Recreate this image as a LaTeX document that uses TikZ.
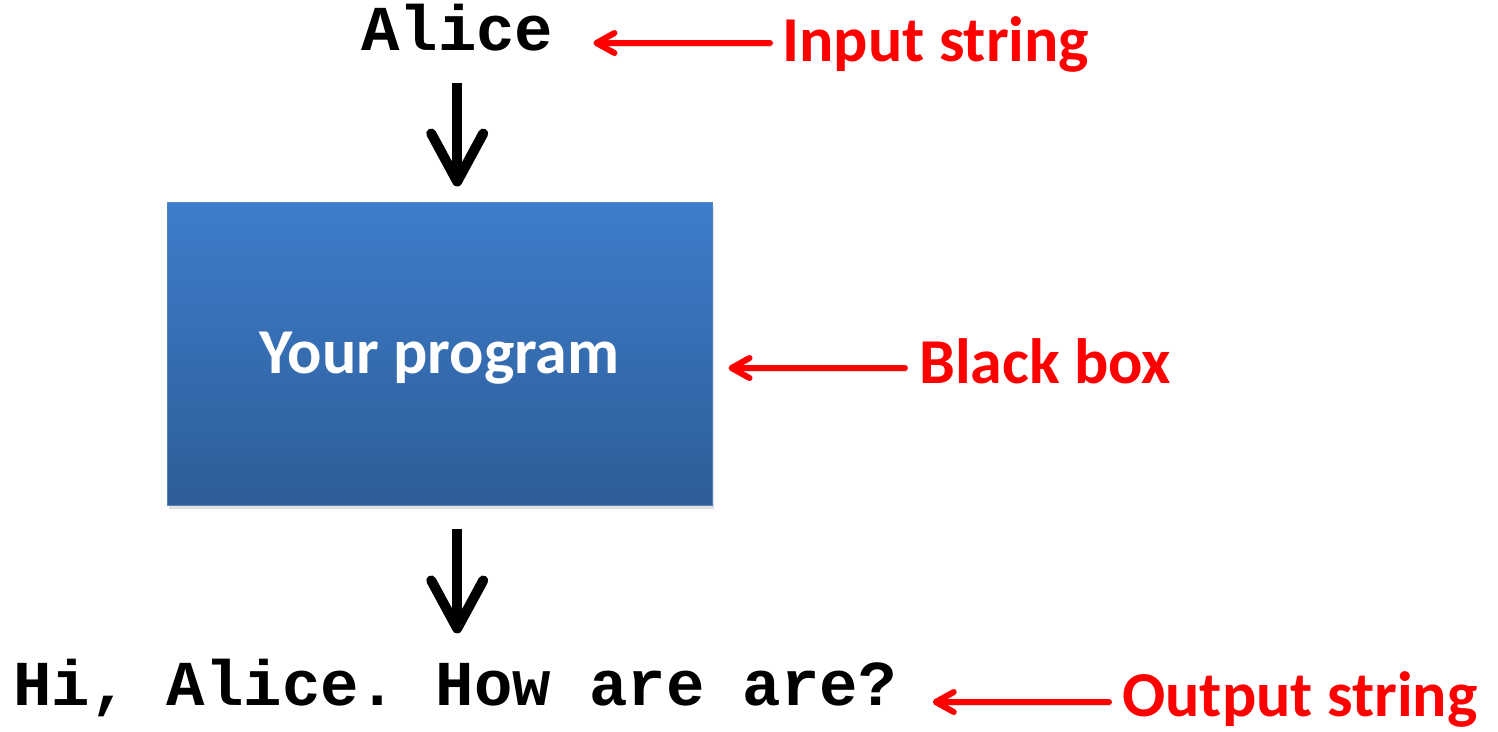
\documentclass[tikz,border=0pt]{standalone}
\usepackage{fontspec}
\setmainfont{Carlito}
\setmonofont{Liberation Mono}
\usetikzlibrary{arrows.meta,shadows}
\definecolor{boxtop}{RGB}{61,125,203}
\definecolor{boxbot}{RGB}{46,93,152}
\definecolor{boxedge}{RGB}{84,132,192}
\definecolor{lblred}{RGB}{255,0,0}
\begin{document}
\begin{tikzpicture}[x=1pt,y=-1pt,
  code/.style={font=\fontsize{64}{70}\selectfont\ttfamily\bfseries, inner sep=0pt, anchor=base west},
  lbl/.style={font=\fontsize{64}{70}\selectfont\bfseries, text=lblred, inner sep=0pt, anchor=base west, text height=40pt, text depth=12pt},
  progbox/.style={minimum width=545pt, minimum height=303pt, inner sep=0pt,
    top color=boxtop, bottom color=boxbot, draw=boxedge, line width=1pt,
    drop shadow={shadow xshift=2pt, shadow yshift=-4pt, opacity=0.25},
    font=\fontsize{64}{70}\selectfont\bfseries, text=white, text height=40pt, text depth=0pt},
  flow/.style={line width=10pt, -{Straight Barb[length=48pt,width=52pt,round]},
    preaction={draw=black, opacity=0.15, transform canvas={shift={(2pt,-3pt)}}}},
  note/.style={draw=lblred, line width=6pt, line cap=round, -{Straight Barb[length=18pt,width=20pt,round]},
    preaction={draw=black, opacity=0.15, transform canvas={shift={(1.5pt,-3pt)}}}}]
\useasboundingbox (0,0) rectangle (1498,731);
\node[code] (alice) at (361,50) {Alice};
\node[lbl] (inlabel) at (782,61) {Input string};
\node[progbox] (box) at (439.5,353.5) {Your program};
\node[lbl] (bblabel) at (919,383) {Black box};
\node[code] (out) at (13,705) {Hi, Alice. How are are?};
\node[lbl] (outlabel) at (1122,716) {Output string};
\draw[flow, shorten <=32pt, shorten >=15pt] (alice.south) -- (alice.south |- box.north);
\draw[flow, shorten <=23pt, shorten >=25pt] (alice.south |- box.south) -- (alice.south |- out.north);
\draw[note, shorten <=12pt, shorten >=40pt] ([yshift=4pt]inlabel.west) -- ([yshift=4pt]inlabel.west -| alice.east);
\draw[note, shorten <=14pt, shorten >=16pt] ([yshift=1pt]bblabel.west) -- ([yshift=1pt]bblabel.west -| box.east);
\draw[note, shorten <=13pt, shorten >=36pt] (outlabel.west) -- (outlabel.west -| out.east);
\end{tikzpicture}
\end{document}
